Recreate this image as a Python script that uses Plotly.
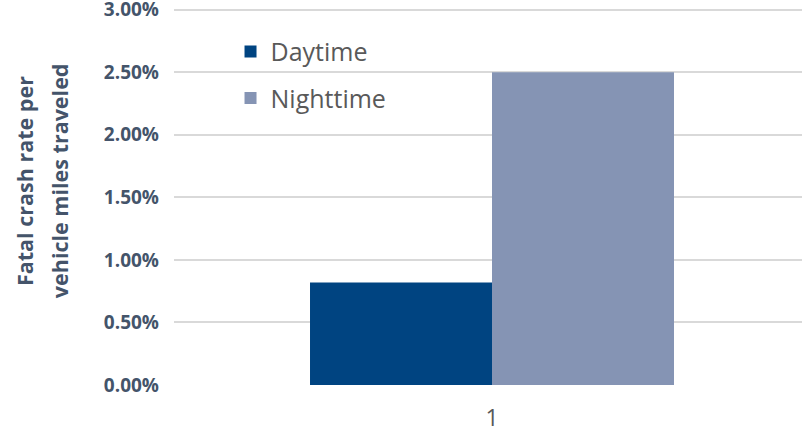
import plotly.graph_objects as go

categories = ["1"]
daytime = [0.0082]
nighttime = [0.025]
series_names = ["Daytime", "Nighttime"]
colors = ["#004481", "#8594b4"]
y_ticks = [0.0, 0.005, 0.01, 0.015, 0.02, 0.025, 0.03]
y_title_lines = ["Fatal crash rate per", "vehicle miles traveled"]

fig = go.Figure()
for name, vals, col in zip(series_names, [daytime, nighttime], colors):
    fig.add_trace(go.Bar(x=categories, y=vals, name=name, marker_color=col,
                         marker_line_width=0, legendgroup=name))

title_font = dict(size=21.5, color="#44546a", family="Open Sans", weight="bold")
for line, xpos in zip(y_title_lines, [-0.2390, -0.1830]):
    fig.add_annotation(text=line, xref="paper", yref="paper", x=xpos, y=0.538,
                       xanchor="center", yanchor="middle", textangle=-90,
                       showarrow=False, font=title_font)

fig.update_layout(
    width=802, height=431,
    margin=dict(l=174, r=0, t=6, b=46),
    paper_bgcolor="white", plot_bgcolor="white",
    barmode="group", bargap=0.4277, bargroupgap=0,
    font=dict(family="Open Sans", color="#595959"),
    legend=dict(x=0.09, y=0.94, xanchor="left", yanchor="top",
                bgcolor="rgba(0,0,0,0)", font=dict(size=25, color="#595959"),
                traceorder="grouped", tracegroupgap=11),
    xaxis=dict(type="category", range=[-0.5, 0.4874], automargin=False,
               tickfont=dict(size=23, color="#595959"), ticklabeloverflow="allow",
               showgrid=False, showline=False, ticks="", ticklabelstandoff=17),
    yaxis=dict(range=[0, 0.0303], tickvals=y_ticks, tickformat=".2%", automargin=False,
               showgrid=True, gridcolor="#d9d9d9", gridwidth=2,
               zeroline=False, showline=False, ticks="", ticklabeloverflow="allow",
               tickfont=dict(size=19, color="#44546a", family="Open Sans", weight="bold"),
               ticklabelstandoff=14),
)

fig.write_html("out.html")
